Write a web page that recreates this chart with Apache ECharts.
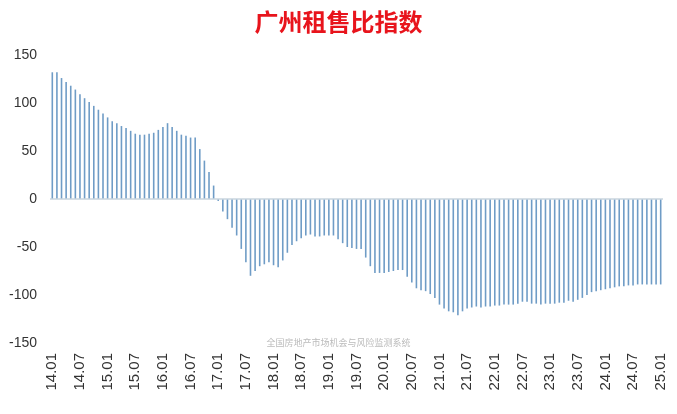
<!DOCTYPE html>
<html><head><meta charset="utf-8">
<script src="https://cdn.jsdelivr.net/npm/echarts@6/dist/echarts.min.js"></script>
<style>html,body{margin:0;padding:0;background:#fff}#c{width:677px;height:414px}</style>
</head><body><div id="c"></div>
<script>
const titleText = '广州租售比指数';
const sourceText = '全国房地产市场机会与风险监测系统';
const startYear = 14, monthCount = 133;
const values = [132,132,126,122,118,114,109,105,101,97,93,89,85,81,79,76,74,71,68,67,67,68,69,72,75,79,75,71,67,66,64,64,52,40,28,14,
-2,
-13,-21,-30,-38,-52,-66,-80,-75,-70,-68,-66,-69,-71,-64,-56,-48,-44,-41,-38,-37,-39,-39,-38,-38,-38,
-42,-46,
-50,-51,-52,-52,-61,-70,-77,-77,-77,-76,-75,-74,-74,-81,-87,-93,-95,-96,-99,-103,-110,
-114,-117,-118,-121,-117,-114,-113,-112,-113,-112,-112,-111,-111,-110,-110,-110,-109,-107,-107,-109,
-109,-110,-109,-109,-109,-108,-108,-106,-107,-105,-103,-100,-97,-96,-95,-94,-93,-92,-91,-91,
-90,-90,-89,-89,-89,-89,-89,-89,-89];
const categories = [];
for (let i = 0; i < monthCount; i++) {
  const y = startYear + Math.floor(i / 12), m = i % 12 + 1;
  categories.push(y + '.' + (m < 10 ? '0' + m : m));
}
const chart = echarts.init(document.getElementById('c'));
chart.setOption({
  animation: false,
  title: {text: titleText, left: 'center', top: 5, textStyle: {color: '#e8141c', fontSize: 24, fontWeight: 'bold', fontFamily: 'Noto Sans CJK SC'}},
  grid: {left: 50, right: 14, top: 55, bottom: 71},
  xAxis: {type: 'category', data: categories, axisLine: {show: false}, axisTick: {show: false},
    axisLabel: {interval: 5, rotate: 90, color: '#333', fontSize: 15, fontFamily: 'Liberation Sans', margin: 10}},
  yAxis: {type: 'value', min: -150, max: 150, interval: 50, splitLine: {show: false},
    axisLine: {show: false}, axisTick: {show: false},
    axisLabel: {color: '#333', fontSize: 14, fontFamily: 'Liberation Sans', margin: 13}},
  series: [{type: 'bar', data: values, barWidth: 1.6, itemStyle: {color: '#6f9cc6'},
    markLine: {silent: true, symbol: 'none', label: {show: false}, lineStyle: {color: '#c8d4de', type: 'solid', width: 1.5},
      data: [{yAxis: 0}]}}],
  graphic: [
    {type: 'text', left: 'center', top: 338, style: {text: sourceText, fill: '#bbb', fontSize: 9, fontFamily: 'Noto Sans CJK SC'}},
    {type: 'text', left: 480, top: 368, style: {text: '知乎 @杨红旭聊房', fill: 'rgba(255,255,255,0.75)', fontSize: 22, fontFamily: 'Noto Sans CJK SC'}}
  ]
});
</script></body></html>
